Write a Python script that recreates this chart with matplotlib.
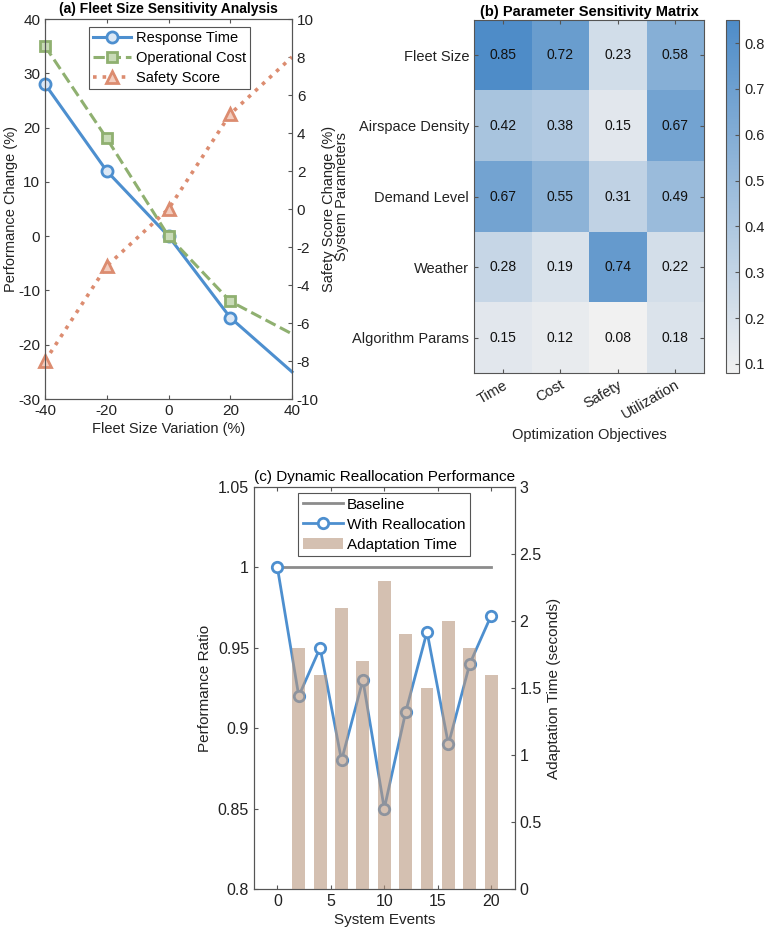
import numpy as np
import matplotlib
matplotlib.use("Agg")
import matplotlib.pyplot as plt
from matplotlib.colors import LinearSegmentedColormap
from matplotlib.ticker import FuncFormatter

plt.rcParams['font.family'] = ['Liberation Sans', 'DejaVu Sans']
plt.rcParams['font.size'] = 11
plt.rcParams['axes.unicode_minus'] = False

# (a) fleet size sensitivity
fleet_var = [-40, -20, 0, 20, 40]
response_time = [28, 12, 0, -15, -25]
operational_cost = [35, 18, 0, -12, -18]
safety_score = [-8, -3, 0, 5, 8]

# (b) sensitivity matrix
params = ['Fleet Size', 'Airspace Density', 'Demand Level', 'Weather', 'Algorithm Params']
objectives = ['Time', 'Cost', 'Safety', 'Utilization']
sens = [[0.85, 0.72, 0.23, 0.58],
        [0.42, 0.38, 0.15, 0.67],
        [0.67, 0.55, 0.31, 0.49],
        [0.28, 0.19, 0.74, 0.22],
        [0.15, 0.12, 0.08, 0.18]]

# (c) dynamic reallocation
events = [0, 2, 4, 6, 8, 10, 12, 14, 16, 18, 20]
baseline = [1.0] * len(events)
realloc = [1.0, 0.92, 0.95, 0.88, 0.93, 0.85, 0.91, 0.96, 0.89, 0.94, 0.97]
bar_events = [2, 4, 6, 8, 10, 12, 14, 16, 18, 20]
adapt_time = [1.8, 1.6, 2.1, 1.7, 2.3, 1.9, 1.5, 2.0, 1.8, 1.6]

blue = '#4d8fcf'
green = '#8fb070'
orange = '#dc8c70'
spine_c = '#555555'
text_c = '#222222'
gfmt = FuncFormatter(lambda v, p: f'{v:g}')


def style(ax, size=11):
    for s in ax.spines.values():
        s.set_color(spine_c)
        s.set_linewidth(0.8)
    ax.tick_params(direction='in', colors=spine_c, labelcolor=text_c, length=3, labelsize=size)


fig = plt.figure(figsize=(7.67, 9.36), dpi=100)

# ---------- (a)
ax1 = fig.add_axes([0.0587, 0.5737, 0.322, 0.406])
ax1r = ax1.twinx()
l1, = ax1.plot(fleet_var, response_time, '-', color=blue, lw=2.2, marker='o', ms=8,
               mfc='#dce8f5', mec=blue, mew=2, markevery=[0, 1, 2, 3], clip_on=False)
l2, = ax1.plot(fleet_var, operational_cost, '--', color=green, lw=2.2, marker='s', ms=7,
               mfc='#c9dbb8', mec=green, mew=2, markevery=[0, 1, 2, 3], clip_on=False)
l3, = ax1r.plot(fleet_var, safety_score, ':', color=orange, lw=2.6, marker='^', ms=9,
                mfc='#f3cdbf', mec=orange, mew=2, markevery=[0, 1, 2, 3], clip_on=False)
ax1.set_xlim(-40, 40)
ax1.set_ylim(-30, 40)
ax1r.set_ylim(-10, 10)
ax1.set_xticks([-40, -20, 0, 20, 40])
ax1.set_yticks(range(-30, 41, 10))
ax1r.set_yticks(range(-10, 11, 2))
style(ax1)
style(ax1r)
ax1.tick_params(top=True)
ax1.set_xlabel('Fleet Size Variation (%)', color=text_c, fontsize=10.5, labelpad=3)
ax1.set_ylabel('Performance Change (%)', color=text_c, fontsize=10.5, labelpad=0)
ax1r.set_ylabel('Safety Score Change (%)', color=text_c, fontsize=10.5, labelpad=2)
ax1.set_title('(a) Fleet Size Sensitivity Analysis', fontsize=10, fontweight='bold', pad=4)
leg = ax1r.legend([l1, l2, l3], ['Response Time', 'Operational Cost', 'Safety Score'],
                  loc='upper left', bbox_to_anchor=(0.178, 0.98), fancybox=False,
                  edgecolor=spine_c, framealpha=1, handlelength=2.6, borderpad=0.3,
                  labelspacing=0.4, handletextpad=0.3, borderaxespad=0, fontsize=10.5)
leg.get_frame().set_linewidth(0.8)

# ---------- (b)
axh = fig.add_axes([0.618, 0.6015, 0.300, 0.377])
cmap = LinearSegmentedColormap.from_list('bl', ['#f1f1f1', '#4e8cc8'])
im = axh.imshow(np.array(sens), cmap=cmap, vmin=0.08, vmax=0.85, aspect='auto')
for i in range(len(params)):
    for j in range(len(objectives)):
        axh.text(j, i, f'{sens[i][j]:.2f}', ha='center', va='center', fontsize=10, color='#111111')
axh.set_xticks(range(len(objectives)))
axh.set_xticklabels(objectives, rotation=30, ha='right', rotation_mode='anchor')
axh.set_yticks(range(len(params)))
axh.set_yticklabels(params)
style(axh, 10.5)
axh.tick_params(top=True, right=True)
axh.set_xlabel('Optimization Objectives', color=text_c, fontsize=10.5, labelpad=4)
axh.set_ylabel('System Parameters', color=text_c, fontsize=10.5, labelpad=2)
axh.set_title('(b) Parameter Sensitivity Matrix', fontsize=10.5, fontweight='bold', pad=3)
cax = fig.add_axes([0.9466, 0.6015, 0.017, 0.377])
cb = fig.colorbar(im, cax=cax)
cb.set_ticks([0.1, 0.2, 0.3, 0.4, 0.5, 0.6, 0.7, 0.8])
cb.ax.yaxis.set_major_formatter(gfmt)
cb.outline.set_edgecolor(spine_c)
cb.outline.set_linewidth(0.8)
cb.ax.tick_params(direction='in', colors=spine_c, labelcolor=text_c, length=3, labelsize=10.5)

# ---------- (c)
ax3 = fig.add_axes([0.331, 0.0502, 0.340, 0.4295])
ax3r = ax3.twinx()
lb, = ax3.plot(events, baseline, '-', color='#8c8c8c', lw=2)
lr, = ax3.plot(events, realloc, '-', color=blue, lw=2, marker='o', ms=7.5, mfc='white',
               mec=blue, mew=2)
bars = ax3r.bar(bar_events, adapt_time, width=1.2, color='#b8967d', alpha=0.6)
ax3.set_xlim(-2.2, 22.2)
ax3.set_ylim(0.8, 1.05)
ax3r.set_ylim(0, 3)
ax3.set_xticks([0, 5, 10, 15, 20])
ax3.set_yticks([0.8, 0.85, 0.9, 0.95, 1.0, 1.05])
ax3.yaxis.set_major_formatter(gfmt)
ax3r.set_yticks([0, 0.5, 1, 1.5, 2, 2.5, 3])
ax3r.yaxis.set_major_formatter(gfmt)
style(ax3, 11.5)
style(ax3r, 11.5)
ax3.tick_params(top=True)
ax3.set_xlabel('System Events', color=text_c, fontsize=11, labelpad=3)
ax3.set_ylabel('Performance Ratio', color=text_c, fontsize=11, labelpad=4)
ax3r.set_ylabel('Adaptation Time (seconds)', color=text_c, fontsize=11, labelpad=4)
ax3.set_title('(c) Dynamic Reallocation Performance', fontsize=11, pad=4)
leg3 = ax3r.legend([lb, lr, bars], ['Baseline', 'With Reallocation', 'Adaptation Time'],
                   loc='upper left', bbox_to_anchor=(0.17, 0.985), fancybox=False,
                   edgecolor=spine_c, framealpha=1, handlelength=2.6, borderpad=0.3,
                   labelspacing=0.4, handletextpad=0.3, borderaxespad=0, fontsize=11)
leg3.get_frame().set_linewidth(0.8)

fig.savefig('out.png', dpi=100)
